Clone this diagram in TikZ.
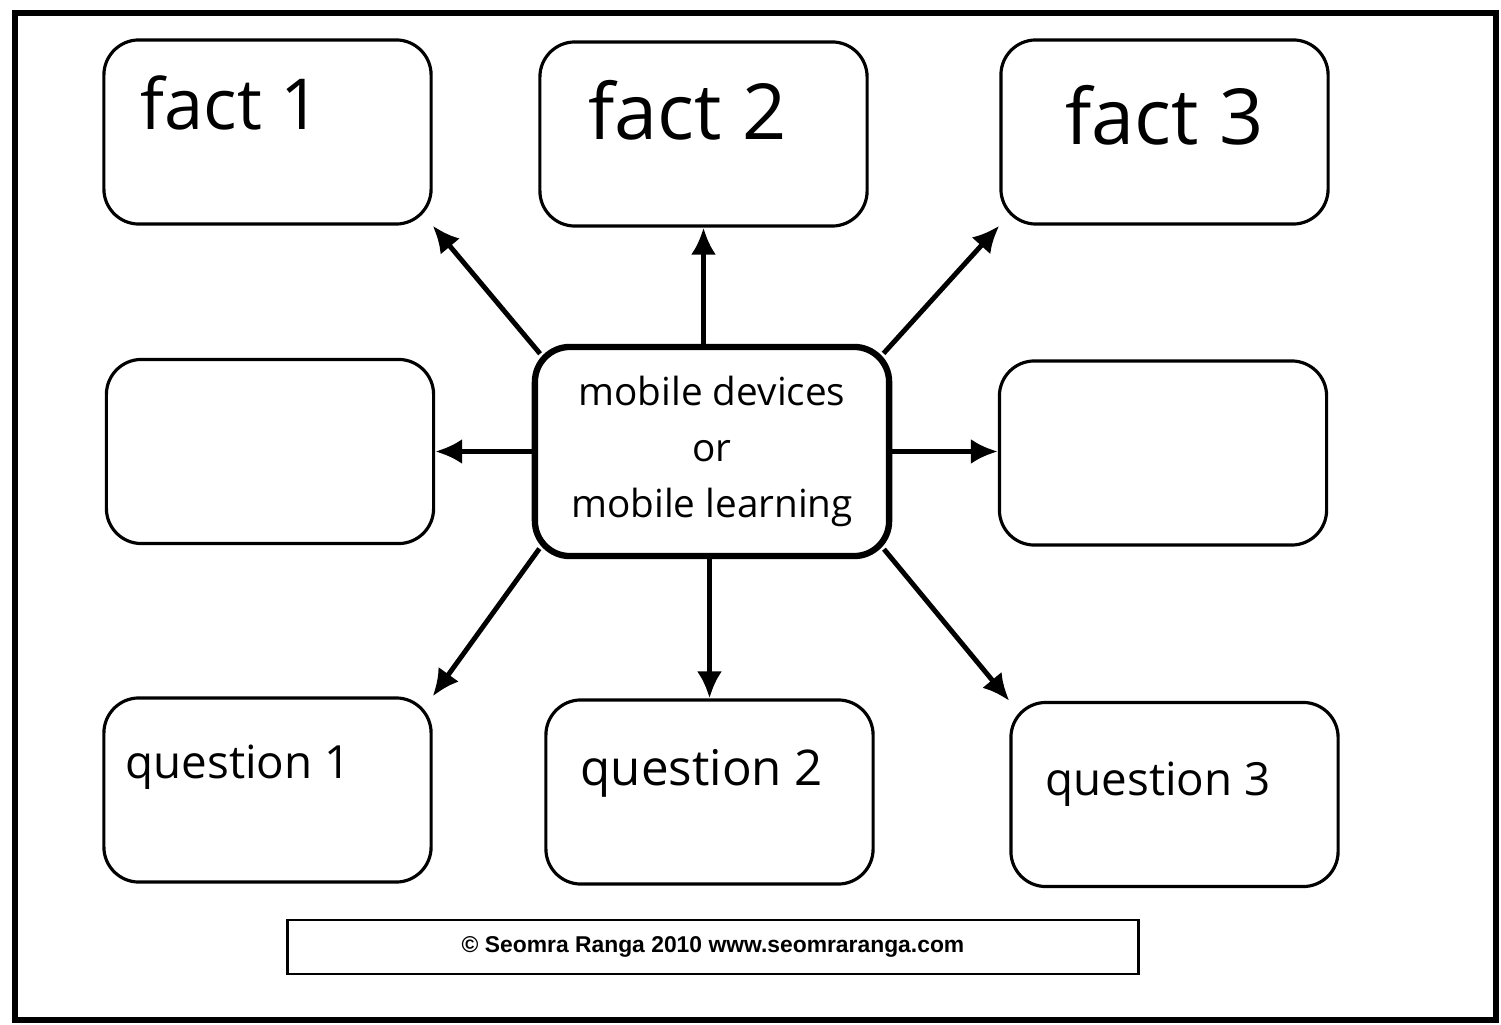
\documentclass[tikz,border=0pt]{standalone}
\usepackage{fontspec}
\setmainfont{Open Sans}
\newfontfamily\creditfont{Liberation Sans}
\usetikzlibrary{arrows.meta,positioning}

\begin{document}
\begin{tikzpicture}[
    x=0.01cm, y=-0.01cm,
    box/.style={draw=black, line width=0.9pt, rounded corners=0.35cm, minimum width=3.27cm, minimum height=1.84cm, inner sep=0pt},
    hub/.style={box, line width=1.8pt, minimum width=3.54cm, minimum height=2.09cm, align=center, font=\fontsize{11}{16}\selectfont},
    note/.style={anchor=base west, inner sep=0pt},
    arrow/.style={-{Latex[length=0.27cm, width=0.25cm]}, line width=1.4pt},
    corner/.style={arrow, shorten <=-0.13cm},
]
\useasboundingbox (0,0) rectangle (1501,1025);
\draw[line width=1.6pt] (15,13) rectangle (1496,1020);

% boxes round the centre
\node[box] (fact1) at (267.5,132) {};
\node[box] (fact2) at (703.5,134) {};
\node[box] (fact3) at (1164.5,132) {};
\node[box] (left) at (270,451.5) {};
\node[box] (right) at (1163,453) {};
\node[box] (q1) at (267.5,790) {};
\node[box] (q2) at (709.5,792) {};
\node[box] (q3) at (1174.5,794.5) {};

\node[hub] (hub) at (712,451.5) {mobile devices\\or\\mobile learning};

% labels inside the boxes
\node[note, font=\fontsize{20}{24}\selectfont] (fact1txt) at (140,130) {fact 1};
\node[note, font=\fontsize{22}{26}\selectfont] (fact2txt) at (588,140) {fact 2};
\node[note, font=\fontsize{22}{26}\selectfont] (fact3txt) at (1065,145) {fact 3};
\node[note, font=\fontsize{13}{16}\selectfont] (q1txt) at (125,778) {question 1};
\node[note, font=\fontsize{14}{17}\selectfont] (q2txt) at (580,785) {question 2};
\node[note, font=\fontsize{13}{16}\selectfont] (q3txt) at (1045,795) {question 3};

\draw[corner] (hub.north west) -- (fact1.south east);
\draw[arrow] (hub.north -| fact2) -- (fact2.south);
\draw[corner] (hub.north east) -- (fact3.south west);
\draw[arrow] (hub.west) -- (left.east);
\draw[arrow] (hub.east) -- (hub.east -| right.west);
\draw[corner] (hub.south west) -- (q1.north east);
\draw[arrow] (hub.south -| q2) -- (q2.north);
\draw[corner] (hub.south east) -- (q3.north west);

\node[draw, line width=0.8pt, minimum width=8.5cm, minimum height=0.54cm, font=\creditfont\bfseries\fontsize{6.5}{8}\selectfont] (credit) at (713,947) {\textcopyright\ Seomra Ranga 2010 www.seomraranga.com};
\end{tikzpicture}
\end{document}
